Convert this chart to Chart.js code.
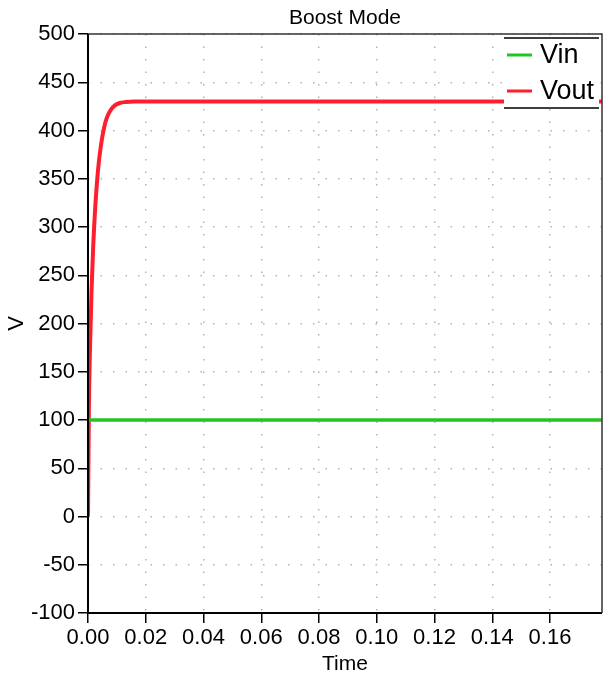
<!DOCTYPE html>
<html>
<head>
<meta charset="utf-8">
<style>
  html, body { margin: 0; padding: 0; background: #fff; }
  #wrap { width: 603px; height: 679px; }
</style>
<script src="https://cdn.jsdelivr.net/npm/chart.js@4/dist/chart.umd.min.js"></script>
</head>
<body>
<div id="wrap"><canvas id="chart" width="603" height="679"></canvas></div>
<script>
const title = "Boost Mode";
const xTitle = "Time";
const yTitle = "V";
const seriesNames = ["Vin", "Vout"];

// Vin: flat input voltage
const vinTime = [0, 0.178];
const vinValues = [100, 100];

// Vout: boosted output
const voutTime = [0, 0.0003, 0.0007, 0.0012, 0.0018, 0.0026, 0.0035, 0.0045, 0.0055,
  0.0065, 0.0078, 0.0093, 0.011, 0.013, 0.016, 0.02, 0.05, 0.1, 0.15, 0.178];
const voutValues = [0, 110, 175, 232, 280, 325, 360, 385, 402,
  413, 421, 426, 428.5, 429.5, 430, 430, 430, 430, 430, 430];

const xMin = 0, xMax = 0.178, xStep = 0.02;
const yMin = -100, yMax = 500, yStep = 50;

const colors = ["#22c422", "#ff1e2d"];
const font = "'Liberation Sans', Arial, sans-serif";

const toPoints = (xs, ys) => xs.map((x, i) => ({ x: x, y: ys[i] }));

// frame, title and legend drawn on top
const decor = {
  id: "decor",
  afterDraw(chart) {
    const { ctx, chartArea: a } = chart;
    ctx.save();
    ctx.strokeStyle = "#000";
    ctx.lineWidth = 2;
    ctx.beginPath();
    ctx.moveTo(a.left, a.top);
    ctx.lineTo(a.left, a.bottom);
    ctx.lineTo(a.right, a.bottom);
    ctx.stroke();
    ctx.strokeStyle = "#333";
    ctx.lineWidth = 1.5;
    ctx.beginPath();
    ctx.moveTo(a.left, a.top);
    ctx.lineTo(a.right, a.top);
    ctx.lineTo(a.right, a.bottom);
    ctx.stroke();

    // title centred over plot area
    ctx.fillStyle = "#000";
    ctx.font = "21px " + font;
    ctx.textAlign = "center";
    ctx.textBaseline = "middle";
    ctx.fillText(title, (a.left + a.right) / 2, 18);

    // legend box
    const lx = 504, ly = 38, lw = 95, lh = 70;
    ctx.fillStyle = "#fff";
    ctx.fillRect(lx, ly, lw, lh);
    ctx.strokeStyle = "#000";
    ctx.lineWidth = 1.5;
    ctx.beginPath();
    ctx.moveTo(lx, ly); ctx.lineTo(lx + lw, ly);
    ctx.moveTo(lx, ly + lh); ctx.lineTo(lx + lw, ly + lh);
    ctx.stroke();
    ctx.font = "27px " + font;
    ctx.textAlign = "left";
    seriesNames.forEach((name, i) => {
      const y = ly + 17 + i * 36;
      ctx.strokeStyle = colors[i];
      ctx.lineWidth = 3;
      ctx.beginPath();
      ctx.moveTo(lx + 3, y);
      ctx.lineTo(lx + 28, y);
      ctx.stroke();
      ctx.fillStyle = "#000";
      ctx.fillText(name, lx + 36, y + 1);
    });
    ctx.restore();
  }
};

new Chart(document.getElementById("chart"), {
  type: "scatter",
  data: {
    datasets: [
      {
        label: seriesNames[0],
        data: toPoints(vinTime, vinValues),
        showLine: true,
        borderColor: colors[0],
        borderWidth: 3.5,
        pointRadius: 0,
      },
      {
        label: seriesNames[1],
        data: toPoints(voutTime, voutValues),
        showLine: true,
        borderColor: colors[1],
        borderWidth: 4,
        pointRadius: 0,
        cubicInterpolationMode: "monotone",
      },
    ],
  },
  options: {
    responsive: false,
    animation: false,
    layout: { padding: { top: 34, right: 1, left: 0, bottom: 0 } },
    plugins: {
      legend: { display: false },
      title: { display: false },
      tooltip: { enabled: false },
    },
    scales: {
      x: {
        type: "linear",
        min: xMin,
        max: xMax,
        afterFit: (s) => { s.height = 66; },
        ticks: {
          stepSize: xStep,
          includeBounds: false,
          maxRotation: 0,
          autoSkip: false,
          padding: 2,
          color: "#000",
          font: { family: font, size: 22 },
          callback: (v) => v.toFixed(2),
        },
        grid: {
          color: "#b4b4b4",
          lineWidth: 1.5,
          tickLength: 10,
          tickColor: "#000",
          tickWidth: 1.5,
          tickBorderDash: [],
        },
        border: { display: false, dash: [1.5, 11] },
        title: {
          display: true,
          text: xTitle,
          color: "#000",
          font: { family: font, size: 21 },
          padding: { top: 0, bottom: 2 },
        },
      },
      y: {
        min: yMin,
        max: yMax,
        afterFit: (s) => { s.width = 88; },
        ticks: {
          stepSize: yStep,
          includeBounds: false,
          autoSkip: false,
          padding: 3,
          color: "#000",
          font: { family: font, size: 22 },
        },
        grid: {
          color: "#b4b4b4",
          lineWidth: 1.5,
          tickLength: 10,
          tickColor: "#000",
          tickWidth: 1.5,
          tickBorderDash: [],
        },
        border: { display: false, dash: [1.5, 11] },
        title: {
          display: true,
          text: yTitle,
          color: "#000",
          font: { family: font, size: 22 },
          padding: { top: 4, bottom: 0 },
        },
      },
    },
  },
  plugins: [decor],
});
</script>
</body>
</html>
